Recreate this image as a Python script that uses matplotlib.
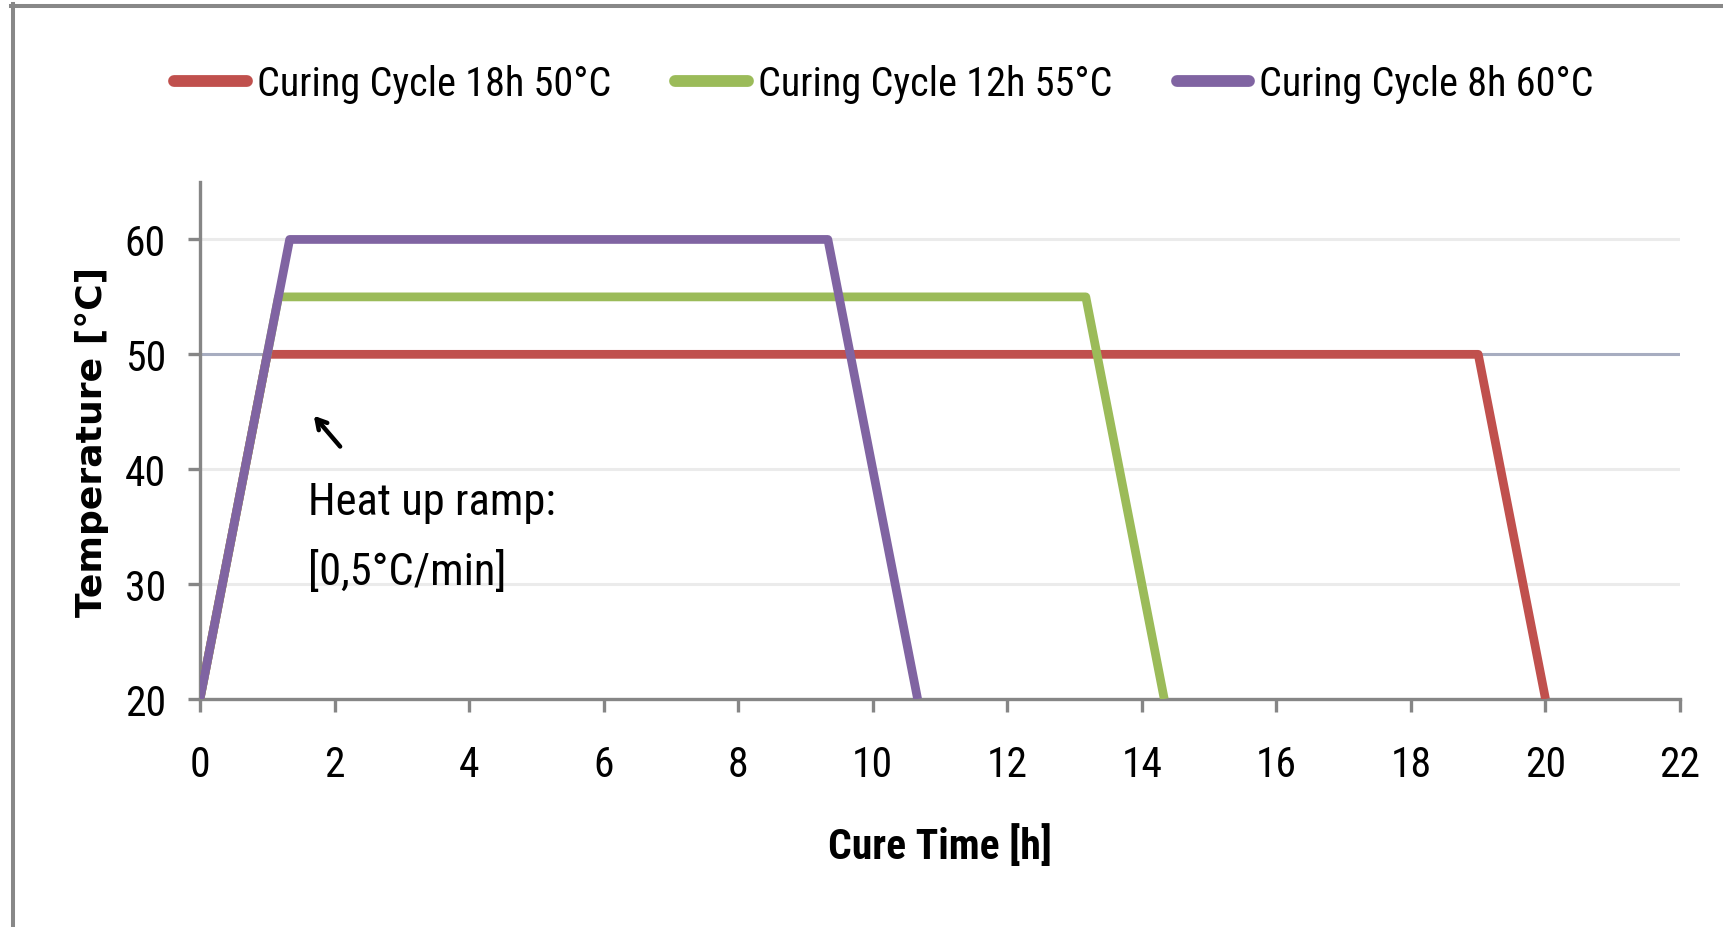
import matplotlib
matplotlib.use("Agg")
import matplotlib.pyplot as plt
from matplotlib.lines import Line2D

# curing cycles: time [h] vs temperature [degC]
time_18h = [0, 1.0, 19.0, 20.0]
temp_18h = [20, 50, 50, 20]
time_12h = [0, 1.167, 13.167, 14.333]
temp_12h = [20, 55, 55, 20]
time_8h = [0, 1.333, 9.333, 10.667]
temp_8h = [20, 60, 60, 20]

labels = ["Curing Cycle 18h 50°C", "Curing Cycle 12h 55°C", "Curing Cycle 8h 60°C"]
colors = ["#C0504D", "#9BBB59", "#8064A2"]

x_ticks = [0, 2, 4, 6, 8, 10, 12, 14, 16, 18, 20, 22]
y_ticks = [20, 30, 40, 50, 60]

plt.rcParams["font.family"] = ["Roboto Condensed", "DejaVu Sans"]

fig = plt.figure(figsize=(17.24, 9.28), dpi=100)
ax = fig.add_axes([0.1160, 0.2457, 0.9745 - 0.1160, 0.8028 - 0.2457])

# gridlines
for y in [30, 40, 60]:
    ax.axhline(y, color="#EBEBEB", lw=2.2, zorder=0)
ax.axhline(50, color="#A7ADC0", lw=2.2, zorder=1)

series = [(time_18h, temp_18h), (time_12h, temp_12h), (time_8h, temp_8h)]
handles = []
for (t, T), c, lab in zip(series, colors, labels):
    ln, = ax.plot(t, T, color=c, lw=6.3, solid_joinstyle="round",
                  solid_capstyle="butt", label=lab, zorder=3)
    handles.append(ln)

ax.set_xlim(0, 22)
ax.set_ylim(20, 65)
ax.set_xticks(x_ticks)
ax.set_yticks(y_ticks)

for s in ["top", "right"]:
    ax.spines[s].set_visible(False)
for s in ["left", "bottom"]:
    ax.spines[s].set_color("#868686")
    ax.spines[s].set_linewidth(2.4)

ax.tick_params(axis="x", length=9.5, width=2.4, color="#868686",
               labelsize=30, pad=23)
ax.tick_params(axis="y", length=8.5, width=2.4, color="#868686",
               labelsize=30, pad=16)

ax.set_xlabel("Cure Time [h]", fontsize=30, fontweight="bold", labelpad=28)
ax.set_ylabel("Temperature [°C]", fontsize=26, fontweight="bold",
              family="DejaVu Sans", labelpad=11)

# annotation for heat-up ramp
ax.annotate("", xy=(1.665, 44.84), xytext=(2.11, 41.79),
            arrowprops=dict(arrowstyle="->,head_length=0.7,head_width=0.4",
                            color="black", lw=3.2))
ax.text(1.6, 36.1, "Heat up ramp:", fontsize=32, va="baseline", ha="left")
ax.text(1.6, 30.0, "[0,5°C/min]", fontsize=32, va="baseline", ha="left")

leg = fig.legend(handles=handles, labels=labels, loc="center",
                 bbox_to_anchor=(0.5128, 0.909), ncol=3, frameon=False,
                 fontsize=29, handlelength=1.8, handletextpad=0.25,
                 columnspacing=1.6, borderpad=0)
for ln in leg.get_lines():
    ln.set_linewidth(8.5)
    ln.set_solid_capstyle("round")

# outer frame (top and left edges only visible)
fig.add_artist(Line2D([11 / 1724, 1], [1 - 7 / 928, 1 - 7 / 928],
                      color="#888888", lw=2.9, transform=fig.transFigure))
fig.add_artist(Line2D([13 / 1724, 13 / 1724], [0, 1 - 5 / 928],
                      color="#888888", lw=2.9, transform=fig.transFigure))

fig.savefig("out.png", dpi=100, facecolor="white")
